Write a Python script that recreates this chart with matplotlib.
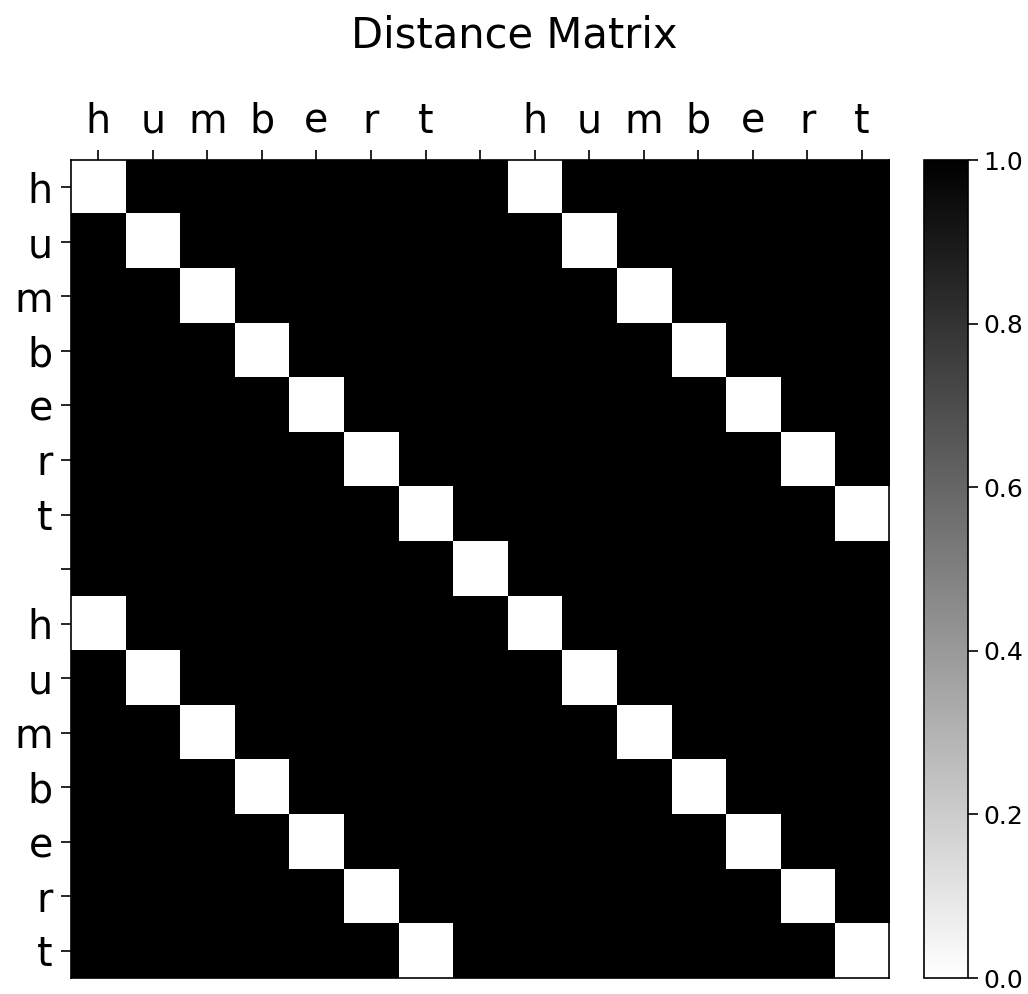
import numpy as np
import matplotlib.pyplot as plt

# characters along both axes (the string compared against itself)
labels = list("humbert humbert")

# pairwise distance: 0 where the characters match, 1 otherwise
dist_rows = [
    "011111110111111",
    "101111111011111",
    "110111111101111",
    "111011111110111",
    "111101111111011",
    "111110111111101",
    "111111011111110",
    "111111101111111",
    "011111110111111",
    "101111111011111",
    "110111111101111",
    "111011111110111",
    "111101111111011",
    "111110111111101",
    "111111011111110",
]
dist = np.array([[int(c) for c in row] for row in dist_rows], dtype=float)

fig = plt.figure(figsize=(10.28, 9.94), dpi=100)
ax = fig.add_axes([0.069, 0.016, 0.796, 0.823])
cax = fig.add_axes([0.899, 0.016, 0.043, 0.823])

im = ax.imshow(dist, cmap="gray_r", vmin=0, vmax=1, interpolation="nearest", aspect="auto")

ax.set_xticks(range(len(labels)))
ax.set_yticks(range(len(labels)))
ax.set_xticklabels(labels, fontsize=28.5)
ax.set_yticklabels(labels, fontsize=28.5)
ax.xaxis.tick_top()
ax.tick_params(length=7, width=1.2, pad=6)
for s in ax.spines.values():
    s.set_linewidth(1.2)

cb = fig.colorbar(im, cax=cax)
cb.set_ticks([0.0, 0.2, 0.4, 0.6, 0.8, 1.0])
cb.ax.tick_params(labelsize=18, length=7, width=1.2, pad=4)
cb.outline.set_linewidth(1.2)

fig.suptitle("Distance Matrix", fontsize=30, y=0.985)

fig.savefig("out.png", dpi=100)
